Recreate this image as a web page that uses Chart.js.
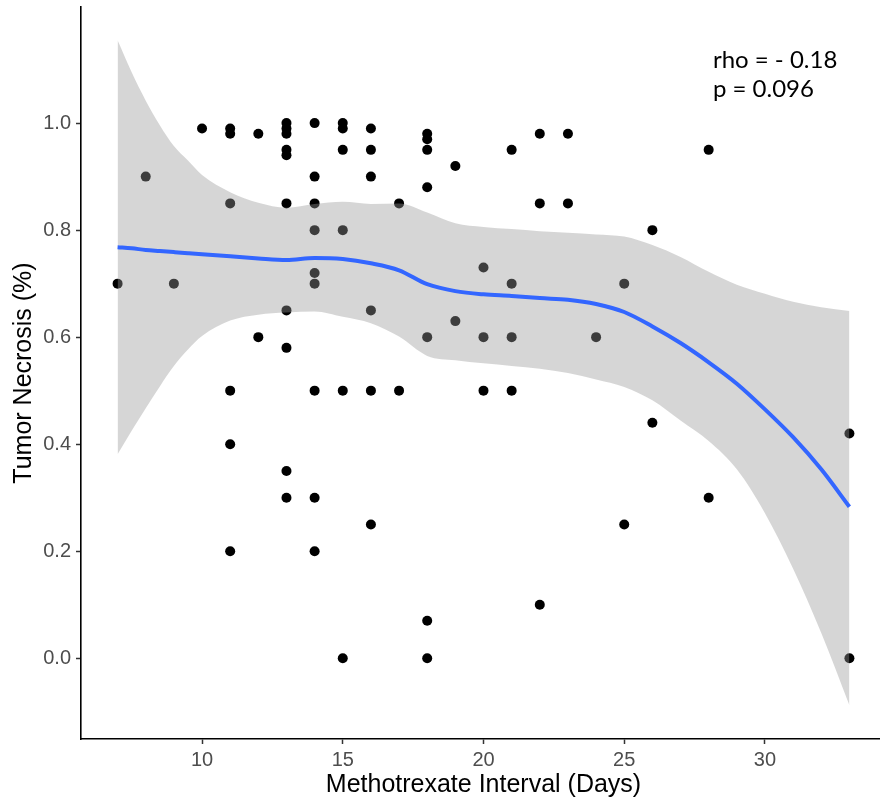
<!DOCTYPE html>
<html>
<head>
<meta charset="utf-8">
<script src="https://cdn.jsdelivr.net/npm/chart.js@4.4.1/dist/chart.umd.min.js"></script>
<style>
  html, body { margin: 0; padding: 0; background: #fff; overflow: hidden; }
  #wrap { width: 886px; height: 805px; }
</style>
</head>
<body>
<div id="wrap"><canvas id="chartNecrosis"></canvas></div>
<script>
// observed points
var intervalDays = [7, 8, 9, 10,
  11, 11, 11, 11, 11, 11,
  12, 12,
  13, 13, 13, 13, 13, 13, 13, 13, 13, 13,
  14, 14, 14, 14, 14, 14, 14, 14, 14,
  15, 15, 15, 15, 15, 15,
  16, 16, 16, 16, 16, 16,
  17, 17,
  18, 18, 18, 18, 18, 18, 18,
  19, 19,
  20, 20, 20,
  21, 21, 21, 21,
  22, 22, 22,
  23, 23,
  24,
  25, 25,
  26, 26,
  28, 28,
  33, 33];
var necrosis = [0.70, 0.90, 0.70, 0.99,
  0.99, 0.98, 0.85, 0.50, 0.40, 0.20,
  0.98, 0.60,
  1.00, 0.99, 0.98, 0.95, 0.94, 0.85, 0.65, 0.58, 0.35, 0.30,
  1.00, 0.90, 0.85, 0.80, 0.72, 0.70, 0.50, 0.30, 0.20,
  1.00, 0.99, 0.95, 0.80, 0.50, 0.00,
  0.99, 0.95, 0.90, 0.65, 0.50, 0.25,
  0.85, 0.50,
  0.98, 0.97, 0.95, 0.88, 0.60, 0.07, 0.00,
  0.92, 0.63,
  0.73, 0.60, 0.50,
  0.95, 0.70, 0.60, 0.50,
  0.98, 0.85, 0.10,
  0.98, 0.85,
  0.60,
  0.70, 0.25,
  0.80, 0.44,
  0.95, 0.30,
  0.42, 0.00];

// loess fit and confidence band
var smoothX = [7, 7.5, 8, 8.5, 9, 9.5, 10, 11, 12, 13, 14, 15, 16, 17, 18, 19, 20,
  21, 22, 23, 24, 25, 26, 27, 28, 29, 30, 31, 32, 33];
var fitY = [0.768, 0.766, 0.763, 0.761, 0.759, 0.757, 0.755, 0.751, 0.747, 0.744, 0.748,
  0.746, 0.738, 0.725, 0.699, 0.686, 0.680, 0.677, 0.673, 0.670, 0.662, 0.647, 0.620,
  0.589, 0.553, 0.513, 0.465, 0.413, 0.353, 0.283];
var bandUpper = [1.155, 1.095, 1.042, 0.996, 0.957, 0.930, 0.903, 0.871, 0.851, 0.842,
  0.849, 0.853, 0.849, 0.850, 0.833, 0.813, 0.806, 0.802, 0.798, 0.795, 0.792, 0.788,
  0.772, 0.750, 0.722, 0.698, 0.681, 0.666, 0.656, 0.649];
var bandLower = [0.381, 0.425, 0.467, 0.508, 0.546, 0.577, 0.602, 0.631, 0.642, 0.646,
  0.648, 0.638, 0.626, 0.601, 0.565, 0.557, 0.551, 0.546, 0.541, 0.533, 0.521, 0.507,
  0.482, 0.444, 0.406, 0.353, 0.271, 0.167, 0.047, -0.088];

var xTicks = [10, 15, 20, 25, 30];
var yTicks = [0, 0.2, 0.4, 0.6, 0.8, 1.0];
var statLines = ['rho = - 0.18', 'p = 0.096'];
var statPos = { x: 28.15, y: 1.103 };

function pairs(xs, ys) {
  return xs.map(function (x, i) { return { x: x, y: ys[i] }; });
}

var axisFont = 'Liberation Sans';

var statsLabel = {
  id: 'statsLabel',
  afterDatasetsDraw: function (chart) {
    var ctx = chart.ctx;
    var px = chart.scales.x.getPixelForValue(statPos.x);
    var py = chart.scales.y.getPixelForValue(statPos.y);
    ctx.save();
    ctx.font = '24px Lato';
    ctx.fillStyle = '#000';
    ctx.textAlign = 'left';
    ctx.textBaseline = 'alphabetic';
    for (var i = 0; i < statLines.length; i++) {
      ctx.fillText(statLines[i], px, py + i * 29);
    }
    ctx.restore();
  }
};

var ctx = document.getElementById('chartNecrosis');
new Chart(ctx, {
  type: 'scatter',
  data: {
    datasets: [
      {
        label: 'points',
        data: pairs(intervalDays, necrosis),
        backgroundColor: '#000',
        borderWidth: 0,
        pointRadius: 5,
        order: 3
      },
      {
        label: 'upper',
        type: 'line',
        data: pairs(smoothX, bandUpper),
        borderColor: 'rgba(0,0,0,0)',
        borderWidth: 0,
        pointRadius: 0,
        cubicInterpolationMode: 'monotone',
        backgroundColor: 'rgba(153,153,153,0.4)',
        fill: '+1',
        order: 2
      },
      {
        label: 'lower',
        type: 'line',
        data: pairs(smoothX, bandLower),
        borderColor: 'rgba(0,0,0,0)',
        borderWidth: 0,
        pointRadius: 0,
        cubicInterpolationMode: 'monotone',
        fill: false,
        order: 2
      },
      {
        label: 'loess',
        type: 'line',
        data: pairs(smoothX, fitY),
        borderColor: '#3366FF',
        borderWidth: 4,
        pointRadius: 0,
        cubicInterpolationMode: 'monotone',
        fill: false,
        order: 1
      }
    ]
  },
  options: {
    responsive: true,
    maintainAspectRatio: false,
    animation: false,
    layout: { autoPadding: false, padding: { top: 7, right: 0, bottom: 0, left: 0 } },
    scales: {
      x: {
        type: 'linear',
        min: 5.7,
        max: 34.3,
        afterBuildTicks: function (s) { s.ticks = xTicks.map(function (v) { return { value: v }; }); },
        afterFit: function (s) { s.height = 66; s.paddingLeft = 0; s.paddingRight = 0; },
        border: { display: true, color: '#000', width: 1.6 },
        grid: { display: true, drawOnChartArea: false, drawTicks: true, tickLength: 5, tickColor: '#333', tickWidth: 1.5 },
        ticks: {
          color: '#4d4d4d',
          font: { family: axisFont, size: 20 },
          padding: 4,
          maxRotation: 0,
          autoSkip: false
        },
        title: {
          display: true,
          text: 'Methotrexate Interval (Days)',
          color: '#000',
          font: { family: axisFont, size: 25 },
          padding: { top: 0, bottom: 5 }
        }
      },
      y: {
        type: 'linear',
        min: -0.151,
        max: 1.217,
        afterBuildTicks: function (s) { s.ticks = yTicks.map(function (v) { return { value: v }; }); },
        afterFit: function (s) { s.width = 81; s.paddingTop = 0; s.paddingBottom = 0; },
        border: { display: true, color: '#000', width: 1.6 },
        grid: { display: true, drawOnChartArea: false, drawTicks: true, tickLength: 5, tickColor: '#333', tickWidth: 1.5 },
        ticks: {
          color: '#4d4d4d',
          font: { family: axisFont, size: 20 },
          padding: 5,
          callback: function (v) { return Number(v).toFixed(1); }
        },
        title: {
          display: true,
          text: 'Tumor Necrosis (%)',
          color: '#000',
          font: { family: axisFont, size: 25 },
          padding: { top: 9, bottom: 0 }
        }
      }
    },
    plugins: {
      legend: { display: false },
      tooltip: { enabled: false }
    }
  },
  plugins: [statsLabel]
});
</script>
</body>
</html>
